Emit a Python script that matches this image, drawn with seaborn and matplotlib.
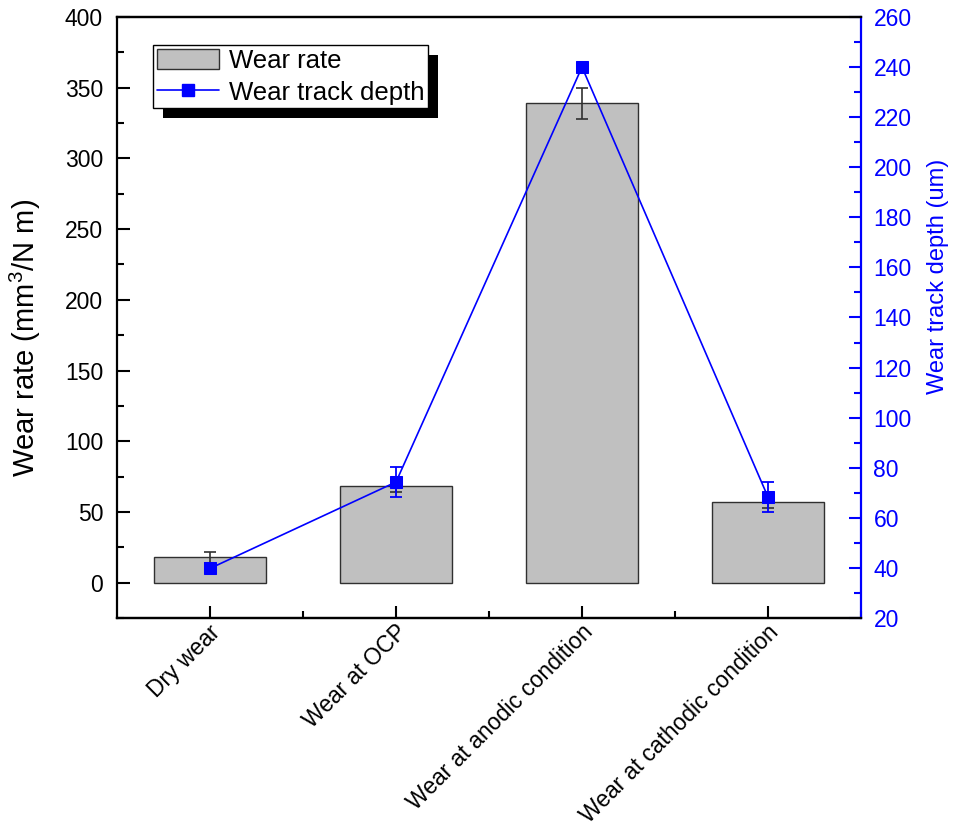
import numpy as np
import pandas as pd
import matplotlib
matplotlib.use("Agg")
import matplotlib.pyplot as plt
import matplotlib.patches as mpatches
from matplotlib.lines import Line2D
from matplotlib.ticker import MultipleLocator
import seaborn as sns

categories = ["Dry wear", "Wear at OCP", "Wear at anodic condition", "Wear at cathodic condition"]
wear_rate = [18, 68, 339, 57]
wear_rate_err = [4, 4, 11, 4]
track_depth = [39.8, 74.3, 240, 68.3]
track_depth_err = [1.5, 6, 1.5, 6]

sns.set_theme(style="white")
plt.rcParams["font.family"] = ["Liberation Sans", "DejaVu Sans"]
plt.rcParams["mathtext.fontset"] = "custom"
plt.rcParams["mathtext.rm"] = "Liberation Sans"
plt.rcParams["text.color"] = "black"
plt.rcParams["axes.labelcolor"] = "black"

W, H = 958, 830
fig = plt.figure(figsize=(W/100, H/100), dpi=100)
ax = fig.add_axes([117/W, 1-618/H, (861-117)/W, (618-17)/H])

df = pd.DataFrame({"cat": categories, "rate": wear_rate})
sns.barplot(data=df, x="cat", y="rate", ax=ax, color="#c0c0c0", saturation=1,
            width=0.6, edgecolor="#303030", linewidth=1.0, errorbar=None, zorder=2)
pos = np.arange(len(categories))
ax.errorbar(pos, wear_rate, yerr=wear_rate_err, fmt="none", ecolor="#303030",
            elinewidth=1.2, capsize=4.3, capthick=1.2, zorder=3)

ax.set_xlim(-0.5, 3.5)
ax.set_ylim(-25, 400)
ax.yaxis.set_major_locator(MultipleLocator(50))
ax.yaxis.set_minor_locator(MultipleLocator(25))
ax.set_xticks(pos)
ax.set_xticks(pos + 0.5, minor=True)
ax.set_xticklabels([""] * len(categories))
for p, name in zip(pos, categories):
    ax.annotate(name, xy=(p, 0), xycoords=("data", "axes fraction"),
                xytext=(5, -7.8), textcoords="offset points",
                rotation=45, ha="right", va="center", rotation_mode="anchor",
                fontsize=16.5, color="black", annotation_clip=False)
ax.tick_params(axis="both", which="major", direction="in", length=9, width=1.5, colors="black", labelsize=16.5)
ax.tick_params(axis="both", which="minor", direction="in", length=5, width=1.5, colors="black")
ax.tick_params(axis="y", which="major", pad=10)
ax.tick_params(left=True, bottom=True, which="both")
ax.set_xlabel("")
ax.set_ylabel("Wear rate (mm$^3$/N m)", fontsize=21, color="black")
ax.yaxis.set_label_coords((43-117)/744, (618-338)/601)
for s in ax.spines.values():
    s.set_linewidth(1.6)
    s.set_color("black")
ax.spines["right"].set_visible(False)

ax2 = ax.twinx()
sns.lineplot(x=pos, y=track_depth, ax=ax2, color="blue", linewidth=1.2, marker="s",
             markersize=9, markeredgecolor="blue", zorder=4, legend=False)
ax2.errorbar(pos, track_depth, yerr=track_depth_err, fmt="none", ecolor="blue",
             elinewidth=1.3, capsize=4.3, capthick=1.3, zorder=5)
ax2.set_ylim(20, 260)
ax2.yaxis.set_major_locator(MultipleLocator(20))
ax2.yaxis.set_minor_locator(MultipleLocator(10))
ax2.tick_params(axis="y", which="major", direction="in", length=9, width=1.5, colors="blue",
                labelsize=16.5, right=True, pad=9)
ax2.tick_params(axis="y", which="minor", direction="in", length=5, width=1.5, colors="blue", right=True)
ax2.set_ylabel("Wear track depth (um)", fontsize=17, color="blue")
ax2.yaxis.set_label_coords((927-117)/744, (618-276)/601)
for s in ax2.spines.values():
    s.set_linewidth(1.6)
ax2.spines["left"].set_visible(False)
ax2.spines["right"].set_color("blue")
ax2.spines["top"].set_color("black")
ax2.spines["bottom"].set_color("black")

h1 = mpatches.Patch(facecolor="#c0c0c0", edgecolor="#303030", linewidth=1.0)
h2 = Line2D([], [], color="blue", linewidth=1.2, marker="s", markersize=9)
leg = ax2.legend([h1, h2], ["Wear rate", "Wear track depth"], loc="upper left",
                 bbox_to_anchor=(153/W, 1-45/H), bbox_transform=fig.transFigure,
                 fontsize=18.5, frameon=True, fancybox=False, framealpha=1,
                 edgecolor="black", borderpad=0.15, handlelength=2.4, handletextpad=0.4,
                 labelspacing=0.3, borderaxespad=0, handleheight=0.8, labelcolor="black")
leg.get_frame().set_linewidth(1.0)
leg.set_zorder(10)

fig.canvas.draw()
bb = leg.get_window_extent()
shadow = mpatches.Rectangle((bb.x0 + 10, bb.y0 - 10), bb.width, bb.height,
                            transform=None, facecolor="black", edgecolor="none", zorder=9)
ax2.add_artist(shadow)

fig.savefig("out.png", dpi=100)
